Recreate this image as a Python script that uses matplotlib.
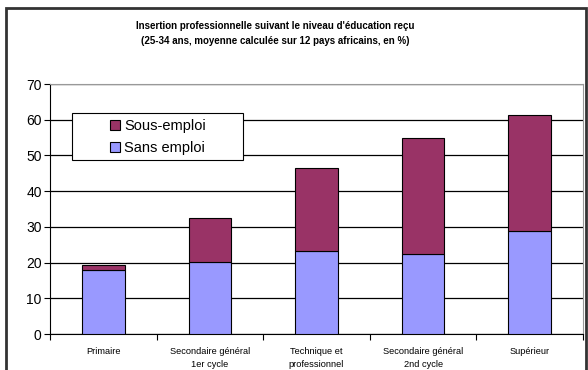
import numpy as np
import matplotlib.pyplot as plt
from matplotlib.patches import Rectangle

plt.rcParams['font.family'] = ['Liberation Sans', 'DejaVu Sans']

categories = ['Primaire', 'Secondaire général\n1er cycle', 'Technique et\nprofessionnel',
              'Secondaire général\n2nd cycle', 'Supérieur']
sans_emploi = [17.8, 20.2, 23.3, 22.3, 28.9]
sous_emploi = [1.4, 12.4, 23.3, 32.5, 32.3]

W, H = 588, 370
fig = plt.figure(figsize=(W / 100, H / 100), dpi=100)
# outer chart border
fig.patches.append(Rectangle((6 / W, -0.1), 580 / W, 1.1 - 8 / H, transform=fig.transFigure,
                             fill=False, edgecolor='#333333', linewidth=2))

ax = fig.add_axes([50 / W, 1 - 334 / H, 533 / W, 250 / H])
x = np.arange(len(categories))
ax.bar(x, sans_emploi, width=0.4, color='#9999FF', edgecolor='black', linewidth=0.8,
       label='Sans emploi', zorder=3)
ax.bar(x, sous_emploi, width=0.4, bottom=sans_emploi, color='#993366', edgecolor='black',
       linewidth=0.8, label='Sous-emploi', zorder=3)

ax.set_xlim(-0.5, len(categories) - 0.5)
ax.set_ylim(0, 70)
ax.set_yticks(range(0, 71, 10))
ax.yaxis.grid(True, color='black', linewidth=0.9)
ax.set_axisbelow(True)
ax.tick_params(axis='y', labelsize=10, length=4, direction='out', pad=2)

ax.set_xticks(np.arange(-0.5, len(categories), 1.0))
ax.set_xticklabels([])
ax.set_xticks(x, minor=True)
ax.set_xticklabels(categories, minor=True, fontsize=6.7, linespacing=1.65)
ax.tick_params(axis='x', which='major', length=4, direction='out')
ax.tick_params(axis='x', which='minor', length=0, pad=9)

for s in ['top', 'right']:
    ax.spines[s].set_color('#999999')
for s in ['left', 'bottom']:
    ax.spines[s].set_color('black')

# legend: white box drawn by hand, entries centred inside
fig.patches.append(Rectangle((72 / W, 1 - 160 / H), 171 / W, 47 / H, transform=fig.transFigure,
                             facecolor='white', edgecolor='black', linewidth=0.8, zorder=5))
handles, labels = ax.get_legend_handles_labels()
leg = fig.legend(handles[::-1], labels[::-1], loc='center',
                 bbox_to_anchor=(158 / W, 1 - 137 / H), fontsize=10.5, frameon=False,
                 handlelength=0.7, handleheight=0.7, handletextpad=0.3,
                 borderpad=0, labelspacing=0.55)
leg.set_zorder(6)

fig.text(275 / W, 1 - 26 / H, "Insertion professionnelle suivant le niveau d'éducation reçu",
         ha='center', va='center', fontsize=7, fontweight='bold')
fig.text(275 / W, 1 - 41 / H, "(25-34 ans, moyenne calculée sur 12 pays africains, en %)",
         ha='center', va='center', fontsize=7, fontweight='bold')

fig.savefig('out.png', dpi=100)
